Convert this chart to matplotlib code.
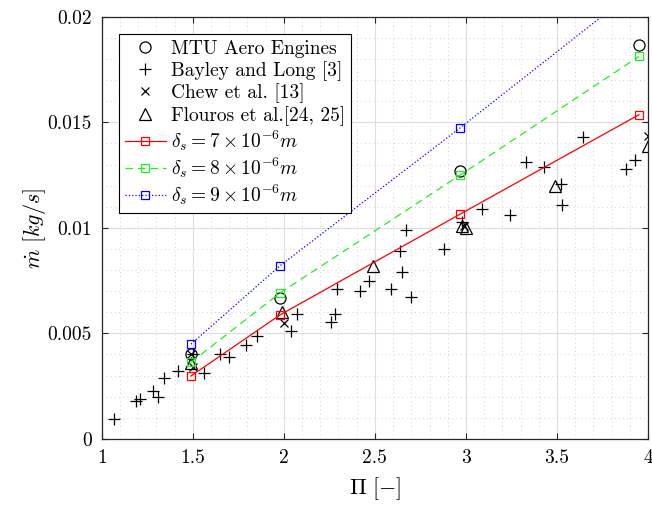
import numpy as np
import matplotlib
matplotlib.use("Agg")
import matplotlib.pyplot as plt
from matplotlib.ticker import MultipleLocator

plt.rcParams['font.family'] = 'serif'
plt.rcParams['font.serif'] = ['cmr10']
plt.rcParams['mathtext.fontset'] = 'cm'
plt.rcParams['axes.unicode_minus'] = False
plt.rcParams['axes.formatter.use_mathtext'] = True

# model / MTU pressure ratios
pi_model = [1.49, 1.98, 2.97, 3.95]
mtu = [0.0040, 0.00668, 0.01267, 0.01867]
delta7 = [0.00298, 0.00588, 0.01066, 0.01536]
delta8 = [0.00363, 0.00692, 0.01251, 0.01812]
delta9 = [0.00449, 0.00821, 0.01475, 0.0214]

# Bayley and Long [3]
bayley_x = [1.07, 1.19, 1.21, 1.28, 1.31, 1.34, 1.42, 1.50, 1.56, 1.65, 1.70, 1.79,
            1.85, 2.04, 2.07, 2.26, 2.28, 2.29, 2.42, 2.47, 2.59, 2.64, 2.65, 2.67,
            2.70, 2.88, 2.98, 3.09, 3.24, 3.33, 3.43, 3.52, 3.53, 3.64, 3.88, 3.93]
bayley_y = [0.00095, 0.0018, 0.0019, 0.00226, 0.0020, 0.0029, 0.0032, 0.0040, 0.0031,
            0.0040, 0.0039, 0.00444, 0.00488, 0.0051, 0.0059, 0.00555, 0.0059, 0.0071,
            0.0070, 0.0075, 0.0071, 0.0089, 0.0079, 0.0099, 0.0067, 0.0090, 0.0103,
            0.0109, 0.0106, 0.0131, 0.0129, 0.0121, 0.0111, 0.0143, 0.0128, 0.0132]

# Chew et al. [13]
chew_x = [1.49, 1.50, 2.00, 2.99, 4.00]
chew_y = [0.0040, 0.0034, 0.0055, 0.0101, 0.01436]

# Flouros et al. [24, 25]
flouros_x = [1.49, 1.99, 2.49, 2.98, 3.00, 3.49, 4.00]
flouros_y = [0.0036, 0.0060, 0.0082, 0.0101, 0.0100, 0.0120, 0.0139]

fig, ax = plt.subplots(figsize=(6.52, 5.08), dpi=100)
fig.subplots_adjust(left=0.156, right=0.994, top=0.967, bottom=0.136)

ax.plot(pi_model, mtu, 'o', mfc='none', mec='k', ms=8, mew=0.9, label='MTU Aero Engines')
ax.plot(bayley_x, bayley_y, '+', color='k', ms=9, mew=0.9, label='Bayley and Long [3]')
ax.plot(chew_x, chew_y, 'x', color='k', ms=6, mew=0.9, label='Chew et al. [13]')
ax.plot(flouros_x, flouros_y, '^', mfc='none', mec='k', ms=9, mew=0.9, label='Flouros et al.[24, 25]')
ax.plot(pi_model, delta7, '-s', color='#ff0000', lw=0.9, mfc='none', ms=6, mew=0.9,
        label=r'$\delta_s = 7\times10^{-6}m$')
ax.plot(pi_model, delta8, '--s', color='#22ee22', lw=0.9, mfc='none', ms=6, mew=0.9,
        dashes=(6, 4), label=r'$\delta_s = 8\times10^{-6}m$')
ax.plot(pi_model, delta9, ':s', color='#0000ff', lw=0.9, mfc='none', ms=6, mew=0.9,
        label=r'$\delta_s = 9\times10^{-6}m$')

ax.set_xlim(1, 4)
ax.set_ylim(0, 0.02)
ax.xaxis.set_minor_locator(MultipleLocator(0.1))
ax.yaxis.set_minor_locator(MultipleLocator(0.001))
ax.set_xticks([1, 1.5, 2, 2.5, 3, 3.5, 4])
ax.set_xticklabels(['1', '1.5', '2', '2.5', '3', '3.5', '4'])
ax.set_yticks([0, 0.005, 0.01, 0.015, 0.02])
ax.set_yticklabels(['0', '0.005', '0.01', '0.015', '0.02'])

ax.grid(True, which='major', color='#dddddd', lw=0.8)
ax.grid(True, which='minor', color='#c4c4c4', lw=0.6, ls=(0, (1, 4)))
ax.set_axisbelow(True)
ax.tick_params(which='major', direction='in', length=4, top=True, right=True,
               labelsize=14, color='#262626', pad=7)
ax.tick_params(which='minor', length=0)
for s in ax.spines.values():
    s.set_color('#262626')
    s.set_linewidth(0.9)

ax.set_xlabel(r'$\Pi\ [-]$', fontsize=16, labelpad=6)
ax.set_ylabel(r'$\dot{m}\ [kg/s]$', fontsize=16, labelpad=0)

leg = ax.legend(loc='upper left', fontsize=14, numpoints=1, handlelength=2.1,
                fancybox=False, edgecolor='k', framealpha=1, borderaxespad=0.9,
                labelspacing=0.14, handletextpad=0.25, borderpad=0.3)
leg.get_frame().set_linewidth(0.8)

plt.savefig('out.png', dpi=100)
